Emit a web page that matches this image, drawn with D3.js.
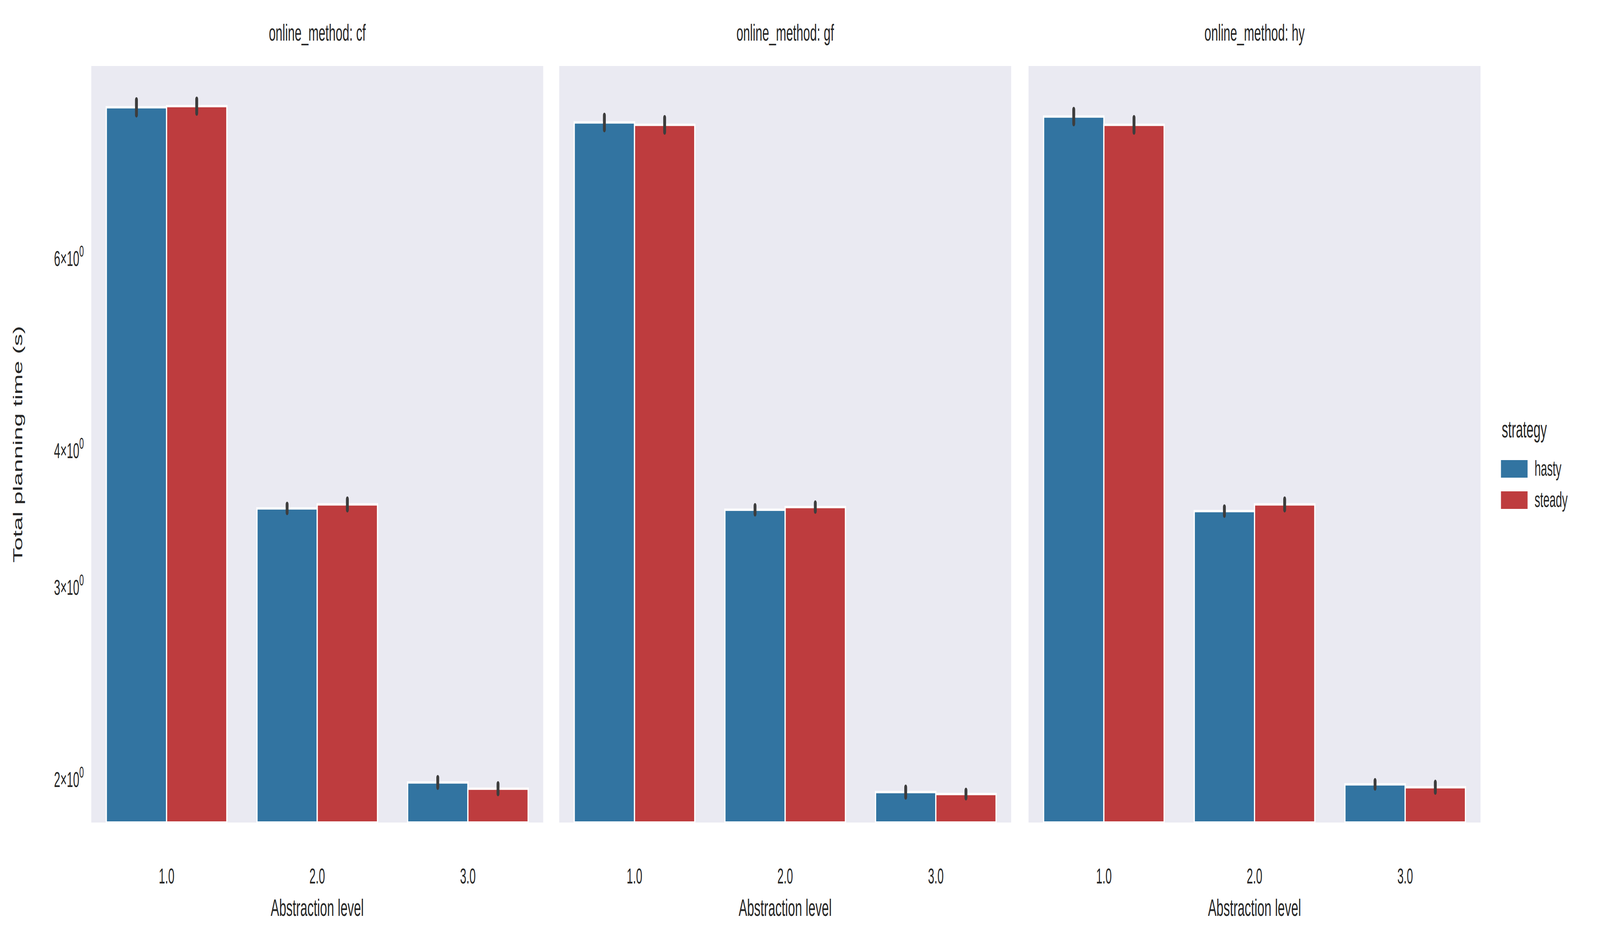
<!DOCTYPE html>
<html><head><meta charset="utf-8">
<script src="https://cdn.jsdelivr.net/npm/d3@7"></script>
<style>html,body{margin:0;background:#fff;overflow:hidden}svg{display:block;width:100vw;height:100vh}text{font-family:"Liberation Sans",Arial,sans-serif;fill:#262626}</style>
</head><body><svg id="chart" viewBox="0 0 7820 2417" preserveAspectRatio="none"></svg>
<script>
var methods = ["cf", "gf", "hy"]
var levels = ["1.0", "2.0", "3.0"]
var strategies = ["hasty", "steady"]
var colors = ["#3274a1", "#be3c3e"]
// mean per method -> [level][strategy]
var means = {
  cf: [[8.25, 8.27], [3.54, 3.57], [1.986, 1.96]],
  gf: [[7.99, 7.95], [3.53, 3.55], [1.946, 1.938]],
  hy: [[8.09, 7.95], [3.52, 3.57], [1.978, 1.966]]
}
// half-width of the 95% CI
var ci = {
  cf: [[0.13, 0.12], [0.03, 0.04], [0.02, 0.02]],
  gf: [[0.12, 0.12], [0.03, 0.03], [0.02, 0.015]],
  hy: [[0.12, 0.12], [0.03, 0.04], [0.015, 0.02]]
}
var yTicks = [2, 3, 4, 6]

var svg = d3.select("#chart")
var panelX = [446, 2733, 5027], panelW = 2209
var plotTop = 169, plotBottom = 2106

var y = d3.scaleLog().domain([1.825, 9.0]).range([plotBottom, plotTop])
var x = d3.scaleBand().domain(levels).range([0, panelW])
var xs = d3.scaleBand().domain(strategies).range([0, x.bandwidth() * 0.8])

methods.forEach((m, pi) => {
  var g = svg.append("g").attr("transform", `translate(${panelX[pi]},0)`)
  g.append("rect").attr("x", 0).attr("y", plotTop).attr("width", panelW).attr("height", plotBottom - plotTop).attr("fill", "#eaeaf2")
  g.append("text").attr("x", panelW / 2).attr("y", 104).attr("text-anchor", "middle")
    .attr("font-size", 60).text("online_method: " + m)
  levels.forEach((l, li) => {
    strategies.forEach((s, si) => {
      var v = means[m][li][si], e = ci[m][li][si]
      var bx = x(l) + x.bandwidth() * 0.1 + xs(s)
      g.append("rect").attr("x", bx).attr("y", y(v)).attr("width", xs.bandwidth())
        .attr("height", plotBottom - y(v)).attr("fill", colors[si]).attr("stroke", "#fff").attr("stroke-width", 6)
      g.append("line").attr("x1", bx + xs.bandwidth() / 2).attr("x2", bx + xs.bandwidth() / 2)
        .attr("y1", y(v - e)).attr("y2", y(v + e)).attr("stroke", "#3d3d3d")
        .attr("stroke-width", 14).attr("stroke-linecap", "round")
    })
    g.append("text").attr("x", x(l) + x.bandwidth() / 2).attr("y", 2262).attr("text-anchor", "middle")
      .attr("font-size", 55).text(l)
  })
  g.append("text").attr("x", panelW / 2).attr("y", 2345).attr("text-anchor", "middle")
    .attr("font-size", 62).text("Abstraction level")
})

// y ticks (only on first panel)
yTicks.forEach(t => {
  var tt = svg.append("text").attr("x", 410).attr("y", y(t) + 20).attr("text-anchor", "end").attr("font-size", 55)
  tt.append("tspan").text(t + "\u00d710")
  tt.append("tspan").attr("dy", -24).attr("font-size", 40).text("0")
})
svg.append("text").attr("transform", `translate(108,${(plotTop + plotBottom) / 2}) rotate(-90)`)
  .attr("text-anchor", "middle").attr("font-size", 62).text("Total planning time (s)")

// legend
var lg = svg.append("g")
lg.append("text").attr("x", 7340).attr("y", 1120).attr("font-size", 62).text("strategy")
strategies.forEach((s, i) => {
  var yy = 1178 + i * 80
  lg.append("rect").attr("x", 7336).attr("y", yy).attr("width", 130).attr("height", 45).attr("fill", colors[i])
  lg.append("text").attr("x", 7500).attr("y", yy + 40).attr("font-size", 55).text(s)
})
</script></body></html>
